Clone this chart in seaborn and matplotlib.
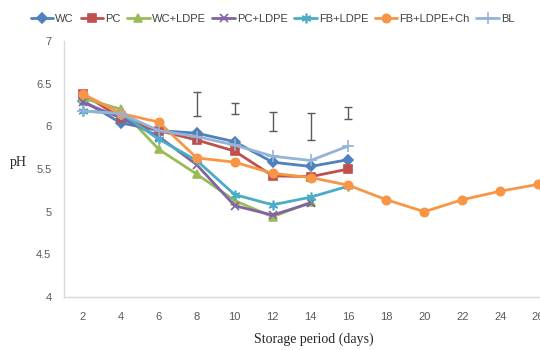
import seaborn as sns
import matplotlib.pyplot as plt
import pandas as pd

days = [2, 4, 6, 8, 10, 12, 14, 16, 18, 20, 22, 24, 26]

wc = [6.30, 6.04, 5.95, 5.92, 5.82, 5.58, 5.53, 5.61]
pc = [6.38, 6.10, 5.95, 5.84, 5.71, 5.42, 5.41, 5.50]
wc_ldpe = [6.33, 6.20, 5.73, 5.44, 5.13, 4.94, 5.11]
pc_ldpe = [6.28, 6.10, 5.88, 5.55, 5.07, 4.96, 5.10]
fb_ldpe = [6.18, 6.15, 5.85, 5.60, 5.20, 5.08, 5.17, 5.30]
fb_ldpe_ch = [6.38, 6.15, 6.05, 5.63, 5.58, 5.45, 5.40, 5.31, 5.14, 5.00, 5.14, 5.24, 5.32]
bl = [6.18, 6.15, 5.95, 5.88, 5.78, 5.65, 5.60, 5.77]

# stand-alone error bars (low, high)
err_days = [8, 10, 12, 14, 16]
err_low = [6.12, 6.15, 5.95, 5.84, 6.09]
err_high = [6.40, 6.27, 6.17, 6.16, 6.23]

series = [
    ("WC", wc, "#4F81BD", "D", 5),
    ("PC", pc, "#C0504D", "s", 6),
    ("WC+LDPE", wc_ldpe, "#9BBB59", "^", 6),
    ("PC+LDPE", pc_ldpe, "#8064A2", "x", 6),
    ("FB+LDPE", fb_ldpe, "#4BACC6", (6, 2, 0), 7),
    ("FB+LDPE+Ch", fb_ldpe_ch, "#F79646", "o", 6),
    ("BL", bl, "#95B3D7", "+", 8),
]

sns.set_style("white")
fig = plt.figure(figsize=(5.4, 3.5), dpi=100)
ax = fig.add_axes([0.1185, 0.1514, 0.8815, 0.7314])

for name, vals, col, mk, ms in series:
    df = pd.DataFrame({"day": days[:len(vals)], "pH": vals})
    sns.lineplot(data=df, x="day", y="pH", ax=ax, color=col, marker=mk,
                 markersize=ms, linewidth=2, markeredgecolor=col,
                 markeredgewidth=1.2, label=name)

mid = [(a + b) / 2 for a, b in zip(err_low, err_high)]
half = [(b - a) / 2 for a, b in zip(err_low, err_high)]
ax.errorbar(err_days, mid, yerr=half, fmt="none", ecolor="#595959",
            elinewidth=1, capsize=3, capthick=1)

ax.set_xlim(1, 26.1)
ax.set_ylim(4, 7)
ax.set_xticks(days)
ax.set_yticks([4, 4.5, 5, 5.5, 6, 6.5, 7])
ax.set_yticklabels(["4", "4.5", "5", "5.5", "6", "6.5", "7"])
ax.tick_params(axis="both", length=0, labelsize=8, colors="#595959")
ax.tick_params(axis="x", pad=11)
ax.tick_params(axis="y", pad=9)
for lab in ax.get_xticklabels() + ax.get_yticklabels():
    lab.set_family("Liberation Sans")

for s in ["top", "right"]:
    ax.spines[s].set_visible(False)
for s in ["left", "bottom"]:
    ax.spines[s].set_color("#D9D9D9")
    ax.spines[s].set_linewidth(1)

ax.set_xlabel("Storage period (days)", family="Liberation Serif", fontsize=10)
ax.xaxis.set_label_coords(0.525, -0.14)
ax.set_ylabel("pH", family="Liberation Serif", fontsize=10, rotation=0)
ax.yaxis.set_label_coords(-0.095, 0.5)

handles, labels = ax.get_legend_handles_labels()
ax.get_legend().remove()
fig.legend(handles[:7], labels[:7], loc="upper center", bbox_to_anchor=(0.505, 0.99),
           ncol=7, frameon=False, handlelength=2.0, columnspacing=0.6,
           handletextpad=0.2, prop={"family": "Liberation Sans", "size": 8})
for t in fig.legends[0].get_texts():
    t.set_color("#404040")

fig.savefig("out.png", dpi=100)
